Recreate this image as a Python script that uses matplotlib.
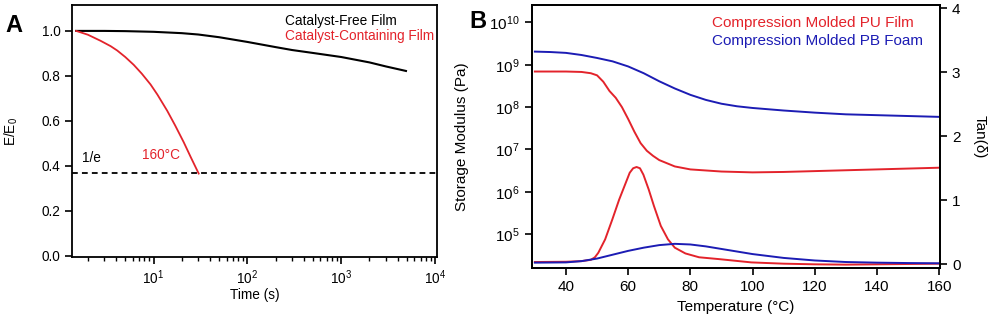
import matplotlib
matplotlib.use("Agg")
import matplotlib.pyplot as plt
import matplotlib.ticker as ticker
import numpy as np

plt.rcParams['font.family'] = ['Liberation Sans', 'DejaVu Sans']
plt.rcParams['mathtext.default'] = 'regular'

RED = '#e3232b'
BLUE = '#1c1cb4'

# Panel A: stress relaxation at 160 C
free_t = [1.5, 3, 5, 10, 20, 30, 50, 100, 200, 300, 500, 1000, 2000, 3000, 4900]
free_e = [1.0, 1.0, 0.999, 0.996, 0.99, 0.984, 0.972, 0.951, 0.928, 0.915, 0.902, 0.884, 0.860, 0.842, 0.822]
cat_t = [1.5, 2.0, 2.73, 3.5, 4.1, 5.0, 6.16, 7.5, 9.3, 11, 14, 17, 21, 25, 30.3]
cat_e = [1.0, 0.983, 0.956, 0.932, 0.913, 0.884, 0.849, 0.81, 0.762, 0.717, 0.645, 0.58, 0.505, 0.438, 0.366]
one_over_e = 0.368

# Panel B: DMA temperature sweeps (log10 of storage modulus)
pu_T = [30, 40, 45, 48, 50, 52, 54, 56, 58, 60, 62, 64, 66, 68, 70, 75, 80, 90, 100, 110, 120, 130, 140, 150, 160]
pu_mod = [8.84, 8.84, 8.83, 8.80, 8.75, 8.60, 8.38, 8.22, 8.00, 7.72, 7.42, 7.15, 6.97, 6.85, 6.75, 6.60, 6.53, 6.48, 6.46, 6.47, 6.49, 6.51, 6.53, 6.55, 6.57]
pb_T = [30, 35, 40, 45, 50, 55, 60, 65, 70, 75, 80, 85, 90, 95, 100, 105, 110, 120, 130, 140, 150, 160]
pb_mod = [9.31, 9.30, 9.28, 9.23, 9.16, 9.08, 8.96, 8.80, 8.61, 8.44, 8.29, 8.17, 8.08, 8.02, 7.98, 7.95, 7.92, 7.87, 7.83, 7.81, 7.79, 7.77]

pu_tan_T = [30, 40, 45, 48, 49.3, 50.4, 52.6, 54.9, 57.1, 58.8, 60.5, 61.6, 62.7, 63.8, 64.9, 66.6, 68.3, 70.5, 72.8, 75, 78.4, 82.8, 89.5, 99.6, 110, 120, 130, 140, 150, 160]
pu_tan = [0.036, 0.04, 0.05, 0.07, 0.11, 0.18, 0.39, 0.70, 1.01, 1.22, 1.43, 1.50, 1.52, 1.50, 1.40, 1.17, 0.91, 0.60, 0.39, 0.26, 0.17, 0.11, 0.08, 0.03, 0.01, 0.0, -0.005, 0.0, 0.005, 0.01]
pb_tan_T = [30, 40, 45, 50, 55, 60, 65, 70, 75, 80, 85, 90, 95, 100, 105, 110, 115, 120, 130, 140, 150, 160]
pb_tan = [0.026, 0.03, 0.05, 0.09, 0.15, 0.21, 0.26, 0.30, 0.32, 0.31, 0.28, 0.24, 0.20, 0.16, 0.13, 0.10, 0.08, 0.06, 0.036, 0.026, 0.02, 0.016]

fig = plt.figure(figsize=(9.93, 3.27), dpi=100)
axA = fig.add_axes([0.073, 0.214, 0.367, 0.7706])
axB = fig.add_axes([0.5355, 0.1813, 0.4112, 0.8034])

# ---- A ----
fsA = 9.8
axA.plot(free_t, free_e, color='black', lw=1.5)
axA.plot(cat_t, cat_e, color=RED, lw=1.3)
axA.axhline(one_over_e, color='black', lw=1.3, ls=(0, (3.2, 2.3)))
axA.set_xscale('log')
axA.set_xlim(1.37, 10**4.02)
axA.set_ylim(-0.005, 1.115)
axA.set_yticks([0.0, 0.2, 0.4, 0.6, 0.8, 1.0])
axA.yaxis.set_major_formatter(ticker.FormatStrFormatter('%.1f'))
axA.xaxis.set_major_locator(ticker.LogLocator(base=10, numticks=10))
axA.xaxis.set_minor_locator(ticker.LogLocator(base=10, subs=np.arange(2, 10), numticks=20))
axA.xaxis.set_minor_formatter(ticker.NullFormatter())
axA.tick_params(direction='out', width=1.2, length=5, labelsize=fsA)
axA.tick_params(which='minor', direction='out', width=1.0, length=3)
axA.set_xlabel('Time (s)', fontsize=fsA, labelpad=0.5)
axA.set_ylabel('E/E$_0$', fontsize=fsA)
axA.yaxis.set_label_coords(-0.144, 0.5)
for s in axA.spines.values():
    s.set_linewidth(1.3)
axA.text(1.74, 0.434, '1/e', color='black', fontsize=fsA, va='center')
axA.text(7.59, 0.448, '160°C', color=RED, fontsize=fsA, va='center')
fig.text(285 / 993, 1 - 20.7 / 327, 'Catalyst-Free Film', color='black', fontsize=fsA, va='center')
fig.text(285 / 993, 1 - 36 / 327, 'Catalyst-Containing Film', color=RED, fontsize=fsA, va='center')
fig.text(5 / 993, 1 - 32 / 327, 'A', fontsize=17, fontweight='bold', va='baseline')

# ---- B ----
fsB = 11
axB.plot(pu_T, 10 ** np.array(pu_mod), color=RED, lw=1.4)
axB.plot(pb_T, 10 ** np.array(pb_mod), color=BLUE, lw=1.4)
axB.set_yscale('log')
axB.set_xlim(29, 160.3)
axB.set_ylim(10 ** 4.21, 10 ** 10.41)
axB.yaxis.set_major_locator(ticker.FixedLocator([1e5, 1e6, 1e7, 1e8, 1e9, 1e10]))
axB.yaxis.set_minor_locator(ticker.NullLocator())
axB.set_xticks([40, 60, 80, 100, 120, 140, 160])
axB.tick_params(direction='out', width=1.2, length=5, labelsize=fsB)
axB.set_xlabel('Temperature (°C)', fontsize=fsB, labelpad=4.5)
axB.set_ylabel('Storage Modulus (Pa)', fontsize=fsB)
axB.yaxis.set_label_coords(-0.1536, 0.5)

axT = axB.twinx()
axT.plot(pu_tan_T, pu_tan, color=RED, lw=1.4)
axT.plot(pb_tan_T, pb_tan, color=BLUE, lw=1.4)
axT.set_ylim(-0.053, 4.05)
axT.set_yticks([0, 1, 2, 3, 4])
axT.tick_params(direction='out', width=1.2, length=5, labelsize=fsB)
axT.set_ylabel('Tan(δ)', rotation=270, fontsize=fsB, va='center')
axT.yaxis.set_label_coords(1.098, 0.5)
for ax in (axB, axT):
    for s in ax.spines.values():
        s.set_linewidth(1.3)
fig.text(712 / 993, 1 - 23.3 / 327, 'Compression Molded PU Film', color=RED, fontsize=fsB, va='center')
fig.text(712 / 993, 1 - 40.7 / 327, 'Compression Molded PB Foam', color=BLUE, fontsize=fsB, va='center')
fig.text(469 / 993, 1 - 28 / 327, 'B', fontsize=17, fontweight='bold', va='baseline')

fig.savefig('out.png', dpi=100)
